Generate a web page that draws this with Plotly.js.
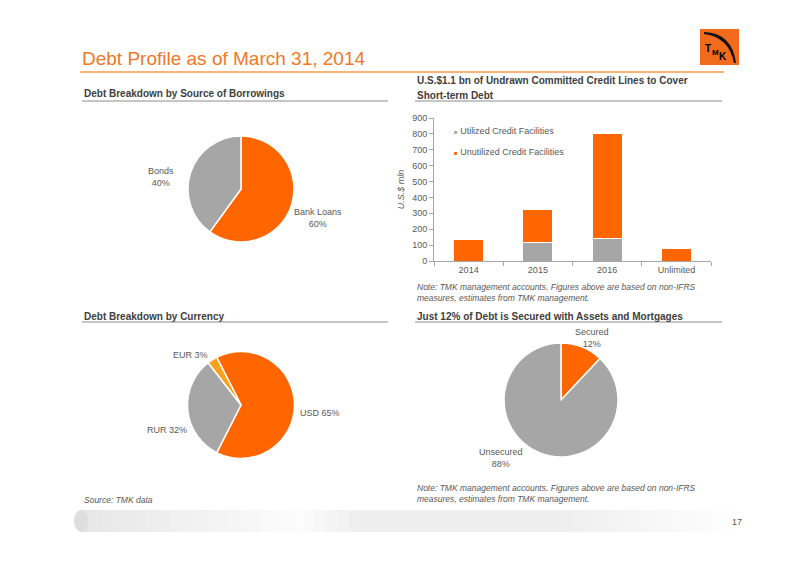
<!DOCTYPE html>
<html>
<head>
<meta charset="utf-8">
<script src="https://cdn.plot.ly/plotly-3.0.1.min.js"></script>
<style>html,body{margin:0;padding:0;background:#fff;}#chart{width:800px;height:565px;}</style>
</head>
<body>
<div id="chart"></div>
<script>
// ---- data ----
const sourceLabels = ["Bank Loans", "Bonds"];
const sourceValues = [60, 40];
const currencyLabels = ["USD", "RUR", "EUR"];
const currencyValues = [65, 32, 3];
const securedLabels = ["Secured", "Unsecured"];
const securedValues = [12, 88];
const barCategories = ["2014", "2015", "2016", "Unlimited"];
const utilizedValues = [0, 115, 143, 0];
const unutilizedValues = [135, 210, 657, 80];
const seriesNames = ["Utilized Credit Facilities", "Unutilized Credit Facilities"];
const yTicks = [0, 100, 200, 300, 400, 500, 600, 700, 800, 900];

// ---- helpers ----
const W = 800, H = 565;
const px = x => x / W;
const py = y => 1 - y / H;
const ORANGE = "#FF6600", GRAY = "#A6A6A6", LORANGE = "#F9A11B";
const TXT = "#595959", HEAD = "#404040";
const FONT = "Liberation Sans, Arial, sans-serif";

function pieDomain(cx, cy, r) {
  return {x: [px(cx - r), px(cx + r)], y: [py(cy + r), py(cy - r)]};
}

const data = [];
data.push({
  type: "bar", x: barCategories, y: utilizedValues, name: seriesNames[0],
  marker: {color: GRAY, line: {color: "#fff", width: 1}}, xaxis: "x", yaxis: "y",
  hoverinfo: "skip", showlegend: false
});
data.push({
  type: "bar", x: barCategories, y: unutilizedValues, name: seriesNames[1],
  marker: {color: ORANGE, line: {color: "#fff", width: 1}}, xaxis: "x", yaxis: "y",
  hoverinfo: "skip", showlegend: false
});
data.push({
  type: "pie", labels: sourceLabels, values: sourceValues, sort: false,
  direction: "clockwise", rotation: 0, textinfo: "none", hoverinfo: "skip",
  marker: {colors: [ORANGE, GRAY], line: {color: "#fff", width: 1.5}},
  domain: pieDomain(241, 189, 53), showlegend: false
});
data.push({
  type: "pie", labels: currencyLabels, values: currencyValues, sort: false,
  direction: "clockwise", rotation: -27, textinfo: "none", hoverinfo: "skip",
  marker: {colors: [ORANGE, GRAY, LORANGE], line: {color: "#fff", width: 1.5}},
  domain: pieDomain(241, 405, 53.5), showlegend: false
});
data.push({
  type: "pie", labels: securedLabels, values: securedValues, sort: false,
  direction: "clockwise", rotation: 0, textinfo: "none", hoverinfo: "skip",
  marker: {colors: [ORANGE, GRAY], line: {color: "#fff", width: 1.5}},
  domain: pieDomain(561, 400, 57), showlegend: false
});

const annotations = [];
function txt(x, y, text, opts) {
  annotations.push(Object.assign({
    xref: "paper", yref: "paper", x: px(x), y: py(y), text: text, showarrow: false,
    xanchor: "left", yanchor: "middle", font: {family: FONT, size: 9, color: TXT}
  }, opts || {}));
}
// title
txt(80, 58, "Debt Profile as of March 31, 2014", {font: {family: FONT, size: 19, color: "#F07828"}});
// headings
const hfont = {family: FONT, size: 10, color: HEAD};
txt(82, 94, "<b>Debt Breakdown by Source of Borrowings</b>", {font: hfont});
txt(415, 80, "<b>U.S.$1.1 bn of Undrawn Committed Credit Lines to Cover</b>", {font: hfont});
txt(415, 95, "<b>Short-term Debt</b>", {font: hfont});
txt(82, 316, "<b>Debt Breakdown by Currency</b>", {font: hfont});
txt(415, 316, "<b>Just 12% of Debt is Secured with Assets and Mortgages</b>", {font: hfont});
// pie labels
const c = {xanchor: "center"};
txt(161, 177, sourceLabels[1] + "<br>" + sourceValues[1] + "%", c);
txt(318, 218, sourceLabels[0] + "<br>" + sourceValues[0] + "%", c);
txt(190, 355, currencyLabels[2] + " " + currencyValues[2] + "%", c);
txt(320, 413, currencyLabels[0] + " " + currencyValues[0] + "%", c);
txt(167, 430, currencyLabels[1] + " " + currencyValues[1] + "%", c);
txt(592, 338, securedLabels[0] + "<br>" + securedValues[0] + "%", c);
txt(501, 458, securedLabels[1] + "<br>" + securedValues[1] + "%", c);
// legend (drawn as text)
txt(452, 131, "<span style='color:" + GRAY + ";font-size:6px'>■</span> " + seriesNames[0], {font: {family: FONT, size: 9, color: TXT}});
txt(452, 152, "<span style='color:" + ORANGE + ";font-size:6px'>■</span> " + seriesNames[1], {font: {family: FONT, size: 9, color: TXT}});
// notes
const ifont = {family: FONT, size: 8.5, color: TXT};
txt(415, 287, "<i>Note: TMK management accounts. Figures above are based on non-IFRS</i>", {font: ifont});
txt(415, 298, "<i>measures, estimates from TMK management.</i>", {font: ifont});
txt(415, 488, "<i>Note: TMK management accounts. Figures above are based on non-IFRS</i>", {font: ifont});
txt(415, 499, "<i>measures, estimates from TMK management.</i>", {font: ifont});
txt(82, 500, "<i>Source: TMK data</i>", {font: ifont});
txt(744, 522, "17", {xanchor: "right", font: {family: FONT, size: 9, color: TXT}});
// logo text
txt(703, 48, "<b>T</b>", {font: {family: FONT, size: 10, color: "#000"}});
txt(710, 52, "<b>M</b>", {font: {family: FONT, size: 8, color: "#000"}});
txt(717, 57, "<b>K</b>", {font: {family: FONT, size: 10, color: "#000"}});

const shapes = [];
function line(x0, y0, x1, y1, color, width) {
  shapes.push({type: "line", xref: "paper", yref: "paper", x0: px(x0), y0: py(y0), x1: px(x1), y1: py(y1),
    line: {color: color, width: width}});
}
line(80, 72, 724, 72, "#F59A4E", 1.5);
line(82, 101, 388, 101, "#8C8C8C", 1);
line(415, 101, 722, 101, "#8C8C8C", 1);
line(82, 322, 388, 322, "#8C8C8C", 1);
line(415, 322, 722, 322, "#8C8C8C", 1);
// logo box
shapes.push({type: "rect", xref: "paper", yref: "paper", x0: px(700), x1: px(739), y0: py(65), y1: py(29),
  fillcolor: "#F26A1B", line: {width: 0}});
shapes.push({type: "path", xref: "paper", yref: "paper",
  path: `M ${px(704)} ${py(32)} Q ${px(732)} ${py(33)} ${px(736)} ${py(63)} L ${px(734)} ${py(63)} Q ${px(729)} ${py(37)} ${px(704)} ${py(34)} Z`,
  fillcolor: "#111", line: {width: 0}});
// bottom band (gradient approximation)
const bandSteps = 60;
for (let i = 0; i < bandSteps; i++) {
  const x0 = 80 + i * (672 / bandSteps), x1 = x0 + 672 / bandSteps + 0.5;
  const xm = (x0 + x1) / 2;
  let g;
  if (xm < 300) g = 230 + (xm - 80) / 220 * 22;
  else if (xm < 360) g = 252 - (xm - 300) / 60 * 14;
  else if (xm < 560) g = 238;
  else g = 238 + (xm - 560) / 190 * 17;
  g = Math.min(255, Math.round(g));
  shapes.push({type: "rect", xref: "paper", yref: "paper", x0: px(x0), x1: px(x1), y0: py(532), y1: py(510),
    fillcolor: `rgb(${g},${g},${g})`, line: {width: 0}, layer: "below"});
}
shapes.push({type: "circle", xref: "paper", yref: "paper", x0: px(74), x1: px(88), y0: py(532), y1: py(510),
  fillcolor: "rgb(222,222,222)", line: {width: 0}, layer: "below"});

const layout = {
  width: W, height: H, margin: {l: 0, r: 0, t: 0, b: 0},
  paper_bgcolor: "#fff", plot_bgcolor: "rgba(0,0,0,0)",
  font: {family: FONT, size: 9, color: TXT},
  barmode: "stack", bargap: 0.565, showlegend: false,
  xaxis: {domain: [px(434), px(711)], anchor: "y", type: "category", showline: true, linecolor: "#A6A6A6",
    linewidth: 1, ticks: "outside", tickson: "boundaries", ticklen: 4, tickcolor: "#A6A6A6",
    tickfont: {family: FONT, size: 9, color: TXT}, showgrid: false, zeroline: false, fixedrange: true},
  yaxis: {domain: [py(261), py(118)], anchor: "x", range: [0, 900], tickvals: yTicks, showline: true,
    linecolor: "#A6A6A6", linewidth: 1, ticks: "outside", ticklen: 4, tickcolor: "#A6A6A6",
    tickfont: {family: FONT, size: 9, color: TXT}, showgrid: false, zeroline: false, fixedrange: true,
    title: {text: "<i>U.S.$ mln</i>", font: {family: FONT, size: 9, color: TXT}, standoff: 6}},
  annotations: annotations, shapes: shapes
};
Plotly.newPlot("chart", data, layout, {staticPlot: true, displayModeBar: false});
</script>
</body>
</html>
